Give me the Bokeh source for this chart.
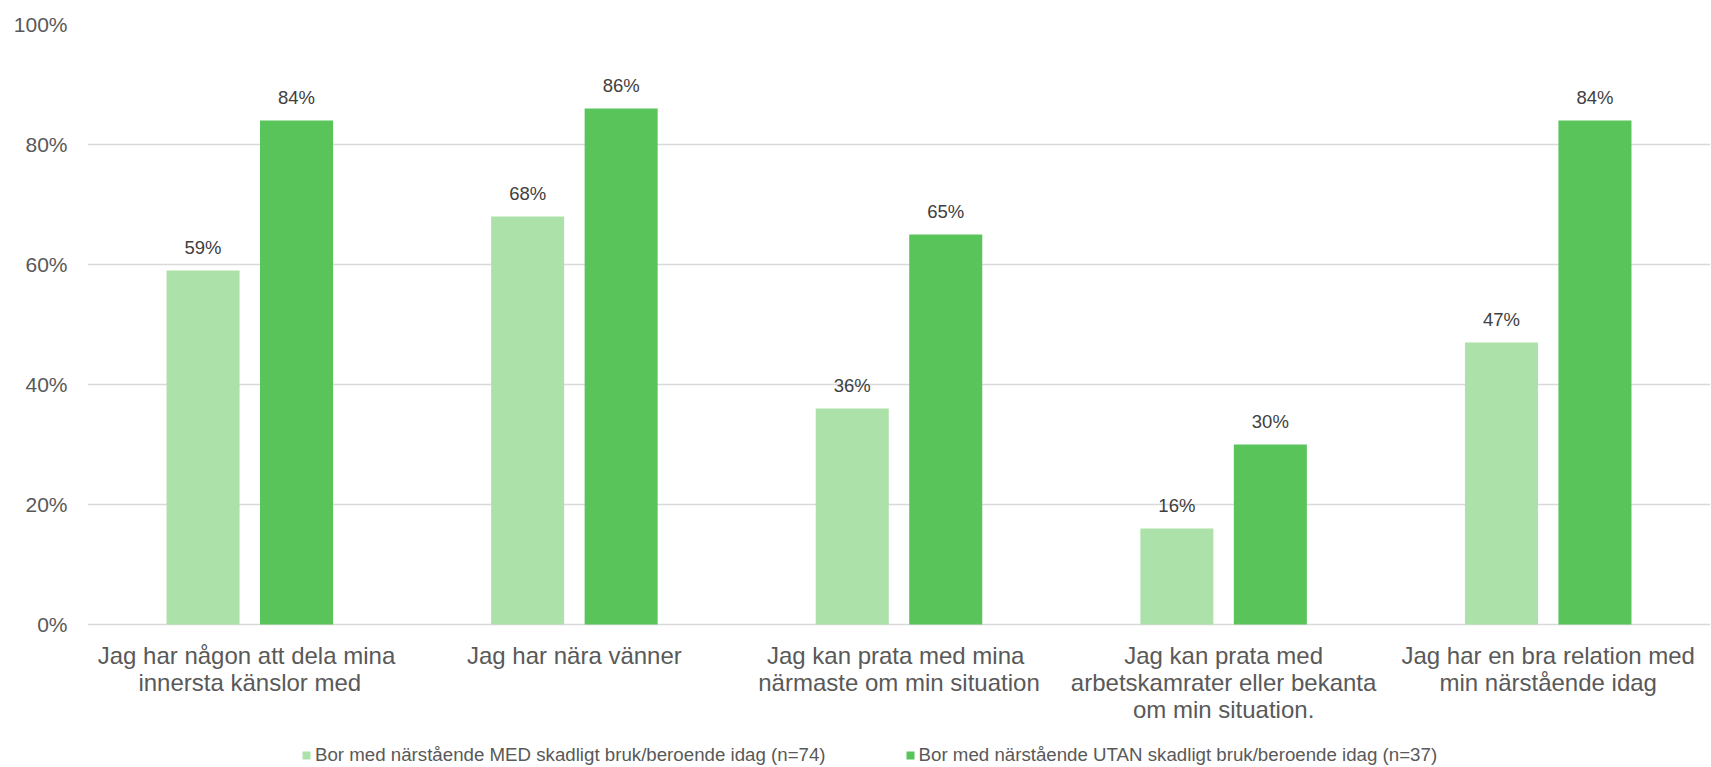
from bokeh.plotting import figure
from bokeh.models import ColumnDataSource, Legend, LegendItem, FactorRange, Range1d
from bokeh.transform import dodge
from bokeh.core.properties import value
from bokeh.embed import file_html
from bokeh.resources import INLINE

categories = [
    "Jag har någon att  dela mina\ninnersta känslor med",
    "Jag har nära vänner",
    "Jag kan prata med  mina\nnärmaste om min situation",
    "Jag kan prata med\narbetskamrater eller bekanta\nom min situation.",
    "Jag har en bra relation med\nmin närstående idag",
]
med = [59, 68, 36, 16, 47]
utan = [84, 86, 65, 30, 84]
series_names = [
    "Bor med närstående MED skadligt bruk/beroende idag (n=74)",
    "Bor med närstående UTAN skadligt bruk/beroende idag (n=37)",
]
y_ticks = [0, 20, 40, 60, 80, 100]

src = ColumnDataSource(dict(
    cat=categories, med=med, utan=utan, base=[0] * len(categories),
    med_lbl=[f"{v}%" for v in med], utan_lbl=[f"{v}%" for v in utan],
))

FONT = "Liberation Sans"
LIGHT = "#ADE1AA"
DARK = "#58C45A"

# frame spans from the 100% line down to the bottom of the page (600 px per 100 units)
H, TOP = 767, 24
y_low = 100 - (H - TOP) / 6.0

p = figure(width=1711, height=H, x_range=FactorRange(*categories), y_range=Range1d(y_low, 100),
           output_backend="svg", toolbar_location=None,
           min_border_left=87, min_border_right=1, min_border_top=TOP, min_border_bottom=0)
p.outline_line_color = None
p.x_range.range_padding = 0
p.xaxis.visible = False

r1 = p.vbar(x=dodge("cat", -0.144, range=p.x_range), top="med", width=0.225, source=src,
            fill_color=LIGHT, line_color=None)
r2 = p.vbar(x=dodge("cat", 0.144, range=p.x_range), top="utan", width=0.225, source=src,
            fill_color=DARK, line_color=None)

for col, lbl, off in (("med", "med_lbl", -0.144), ("utan", "utan_lbl", 0.144)):
    p.text(x=dodge("cat", off, range=p.x_range), y=col, text=lbl, source=src,
           text_align="center", text_baseline="alphabetic", y_offset=-23,
           text_font=value(FONT), text_font_size="18.5px", text_color="#404040")

# category labels below the 0% line
p.text(x="cat", y="base", text="cat", source=src, text_align="center", text_baseline="top",
       y_offset=17, text_font=value(FONT), text_font_size="24px", text_color="#595959",
       text_line_height=1.0)

p.xgrid.grid_line_color = None
p.ygrid.ticker = y_ticks
p.ygrid.grid_line_color = "#D9D9D9"
p.ygrid.grid_line_width = 1.5
p.yaxis.ticker = y_ticks
p.yaxis.major_label_overrides = {t: f"{t}%" for t in y_ticks}
p.yaxis.axis_line_color = None
p.yaxis.major_tick_line_color = None
p.yaxis.major_tick_out = 0
p.yaxis.major_tick_in = 0
p.yaxis.minor_tick_line_color = None
p.yaxis.major_label_text_font = FONT
p.yaxis.major_label_text_font_size = "21px"
p.yaxis.major_label_text_color = "#595959"
p.yaxis.major_label_standoff = 20

legend = Legend(items=[LegendItem(label=series_names[0], renderers=[r1]),
                       LegendItem(label=series_names[1], renderers=[r2])],
                orientation="horizontal", location=(214, 1),
                label_text_font=FONT, label_text_font_size="18.7px",
                label_text_color="#595959", glyph_width=10, glyph_height=10,
                label_height=14, label_standoff=4, spacing=79, background_fill_alpha=0,
                border_line_color=None, padding=0, margin=0)
p.add_layout(legend, "center")

open("out.html", "w").write(file_html(p, INLINE))
